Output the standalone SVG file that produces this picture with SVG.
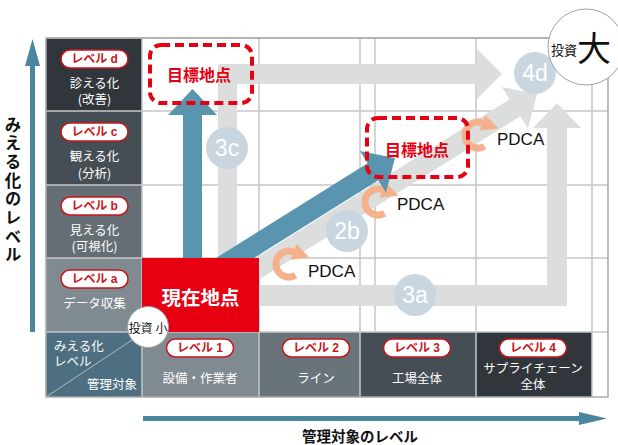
<svg xmlns="http://www.w3.org/2000/svg" width="618" height="445" viewBox="0 0 618 445">
<style>
.jp{font-family:"Noto Sans CJK JP","Liberation Sans",sans-serif}
.cell{font-family:"Noto Sans CJK JP",sans-serif;font-size:12.5px;fill:#fff;text-anchor:middle;dominant-baseline:central}
.pill rect{fill:#fff;stroke:#c8161d;stroke-width:1.5}
.pill text{font-family:"Liberation Sans","Noto Sans CJK JP",sans-serif;font-size:12px;font-weight:bold;fill:#c8161d;text-anchor:middle;dominant-baseline:central}
.grid{stroke:#c6c6c6;stroke-width:1.5;fill:none}
.gray{fill:#dcdddd}
.blue{fill:#5a95b0}
.num{fill:#c9d6df}
.num-t{font-family:"Liberation Sans",sans-serif;font-size:23px;fill:#fff;text-anchor:middle;dominant-baseline:central}
.pdca{font-family:"Liberation Sans",sans-serif;font-size:17px;fill:#111}
.arc{fill:none;stroke:#f4b18c;stroke-width:7}
.arh{fill:#f4b18c}
.goal rect{fill:none;stroke:#e60012;stroke-width:4;stroke-dasharray:9 5}
.goal text{font-family:"Noto Sans CJK JP",sans-serif;font-size:16px;font-weight:bold;fill:#e60012;text-anchor:middle;dominant-baseline:central}
.axis{fill:#4b86a0}
</style>

<g id="left-column">
<rect x="46" y="38" width="96" height="73" fill="#30363b"/>
<rect x="46" y="111" width="96" height="74" fill="#464e55"/>
<rect x="46" y="185" width="96" height="73" fill="#656e75"/>
<rect x="46" y="258" width="96" height="74" fill="#7f8a91"/>
<rect x="46" y="332" width="96" height="65" fill="#4e6f81"/>
</g>
<g id="bottom-row">
<rect x="142" y="332" width="117" height="65" fill="#7f8a91"/>
<rect x="259" y="332" width="101" height="65" fill="#69737a"/>
<rect x="360" y="332" width="116" height="65" fill="#464e55"/>
<rect x="476" y="332" width="116" height="65" fill="#30363b"/>
</g>

<g id="grid" class="grid">
<path d="M46 38H608M46 111H608M46 185H608M46 258H608M46 332H608"/>
<path d="M142 38V397M259 38V397M360 38V397M375 38V332M476 38V397M592 38V397"/>
<rect x="46" y="38" width="562" height="359" stroke="#a9a9a9"/>
<line x1="46" y1="397" x2="132" y2="340" stroke="#b5bcc2" stroke-width="1"/>
</g>

<g id="connectors">
<polygon class="gray" points="218,270 218,64 477,64 477,49 502,74 477,99 477,84 237,84 237,270"/>
<polygon class="gray" points="250,285 547,285 547,128 533,128 557,103 581,128 567,128 567,306 250,306"/>
<g transform="translate(537,94) rotate(-32)"><polygon class="gray" points="-355,-10 -26,-10 -26,-24.5 0,0 -26,24.5 -26,10 -355,10"/></g>

<g id="num-3c"><circle class="num" cx="227" cy="148" r="21"/><text class="num-t" x="227" y="148">3c</text></g>
<g id="num-2b"><circle class="num" cx="347" cy="231" r="21"/><text class="num-t" x="347" y="231">2b</text></g>
<g id="num-3a"><circle class="num" cx="415" cy="295" r="21"/><text class="num-t" x="415" y="295">3a</text></g>
<g id="num-4d"><circle class="num" cx="535" cy="73" r="21"/><text class="num-t" x="535" y="73">4d</text></g>

<g id="pdca-1">
<path class="arc" d="M295.5 275.3 A13 13 0 1 1 293.4 251.8"/>
<polygon class="arh" points="296.4,243.8 309.4,257.6 290.5,259.8"/>
<text class="pdca" x="308" y="277">PDCA</text>
</g>
<g id="pdca-2">
<path class="arc" d="M384.5 213.3 A13 13 0 1 1 382.4 189.8"/>
<polygon class="arh" points="385.4,181.8 398.4,195.6 379.5,197.8"/>
<text class="pdca" x="397" y="210">PDCA</text>
</g>
<g id="pdca-3">
<path class="arc" d="M484.5 146.3 A13 13 0 1 1 482.4 122.8"/>
<polygon class="arh" points="485.4,114.8 498.4,128.6 479.5,130.8"/>
<text class="pdca" x="497" y="145">PDCA</text>
</g>

<polygon class="blue" points="183,262 183,115 168,115 192.5,89 217,115 202,115 202,262"/>
<g transform="translate(395,158) rotate(-32)"><polygon class="blue" points="-215,-10 -26,-10 -26,-24.5 0,0 -26,24.5 -26,10 -215,10"/></g>
</g>

<g id="current">
<rect x="142" y="258" width="117" height="74" fill="#e60012"/>
<text class="jp" x="200.5" y="296" font-size="19.5" font-weight="bold" fill="#fff" text-anchor="middle" dominant-baseline="central">現在地点</text>
</g>

<g id="goal-1" class="goal">
<rect x="150" y="45" width="102" height="58" rx="11"/>
<text x="199" y="74">目標地点</text>
</g>
<g id="goal-2" class="goal">
<rect x="367" y="118" width="101" height="59" rx="11"/>
<text x="417" y="149">目標地点</text>
</g>

<g id="row-d">
<g class="pill"><rect x="61" y="50" width="67" height="18" rx="9"/><text x="94.5" y="59">レベル d</text></g>
<text class="cell"><tspan x="94.5" y="82">診える化</tspan><tspan x="94.5" y="98">(改善)</tspan></text>
</g>
<g id="row-c">
<g class="pill"><rect x="61" y="123" width="67" height="18" rx="9"/><text x="94.5" y="132">レベル c</text></g>
<text class="cell"><tspan x="94.5" y="155">観える化</tspan><tspan x="94.5" y="172">(分析)</tspan></text>
</g>
<g id="row-b">
<g class="pill"><rect x="61" y="197" width="67" height="18" rx="9"/><text x="94.5" y="206">レベル b</text></g>
<text class="cell"><tspan x="94.5" y="229">見える化</tspan><tspan x="94.5" y="245">(可視化)</tspan></text>
</g>
<g id="row-a">
<g class="pill"><rect x="61" y="270" width="67" height="18" rx="9"/><text x="94.5" y="279">レベル a</text></g>
<text class="cell" x="94.5" y="302">データ収集</text>
</g>
<g id="corner">
<text class="cell" style="text-anchor:start"><tspan x="54" y="345">みえる化</tspan><tspan x="54" y="360">レベル</tspan></text>
<text class="cell" x="137" y="383" style="text-anchor:end">管理対象</text>
</g>

<g id="col-1">
<g class="pill"><rect x="166.5" y="339" width="67" height="18" rx="9"/><text x="200" y="348">レベル 1</text></g>
<text class="cell" x="200" y="377">設備・作業者</text>
</g>
<g id="col-2">
<g class="pill"><rect x="282.5" y="339" width="67" height="18" rx="9"/><text x="316" y="348">レベル 2</text></g>
<text class="cell" x="316" y="377">ライン</text>
</g>
<g id="col-3">
<g class="pill"><rect x="383.5" y="339" width="67" height="18" rx="9"/><text x="417" y="348">レベル 3</text></g>
<text class="cell" x="417" y="377">工場全体</text>
</g>
<g id="col-4">
<g class="pill"><rect x="499.5" y="339" width="67" height="18" rx="9"/><text x="533" y="348">レベル 4</text></g>
<text class="cell"><tspan x="533" y="367">サプライチェーン</tspan><tspan x="533" y="383">全体</tspan></text>
</g>

<g id="invest-small">
<circle cx="148" cy="327" r="20.5" fill="#fff" stroke="#a0a0a0" stroke-width="1"/>
<text class="jp" x="148" y="327" font-size="12" fill="#111" text-anchor="middle" dominant-baseline="central">投資<tspan dx="3">小</tspan></text>
</g>
<g id="invest-large">
<circle cx="586" cy="47" r="38" fill="#fff" stroke="#a0a0a0" stroke-width="1"/>
<text class="jp" x="551" y="49" font-size="13" fill="#111" dominant-baseline="central">投資<tspan font-size="34" dy="-3">大</tspan></text>
</g>

<g id="y-axis">
<polygon class="axis" points="30,332 30,66 25,66 32.5,39 40,66 35,66 35,332"/>
<text class="jp" x="13" y="116" writing-mode="vertical-rl" font-size="16.5" letter-spacing="2.2" font-weight="bold" fill="#111">みえる化のレベル</text>
</g>
<g id="x-axis">
<polygon class="axis" points="143,416 579,416 579,412 607,418.5 579,425 579,421 143,421"/>
<text class="jp" x="360" y="435" font-size="14.5" font-weight="bold" fill="#111" text-anchor="middle" dominant-baseline="central">管理対象のレベル</text>
</g>
</svg>
